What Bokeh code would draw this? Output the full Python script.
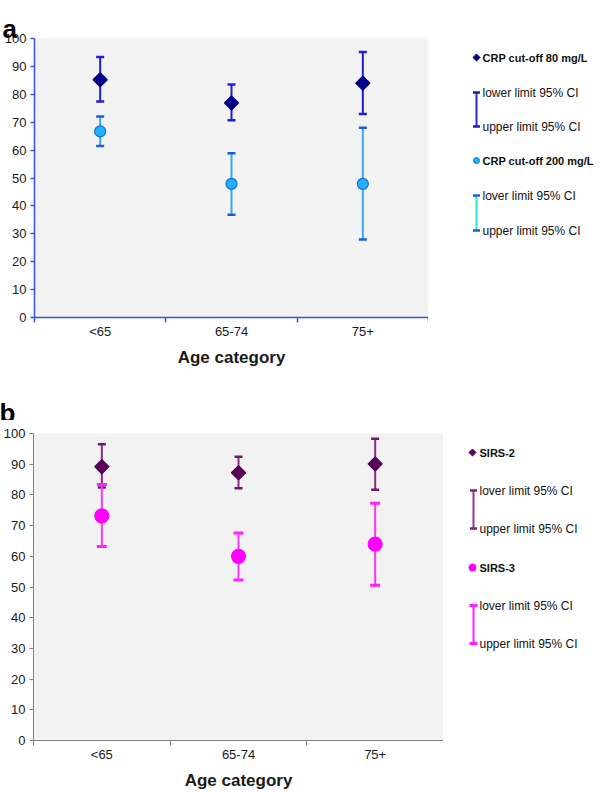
import numpy as np
from bokeh.plotting import figure
from bokeh.models import ColumnDataSource, Range1d, FixedTicker, Whisker, TeeHead
from bokeh.layouts import column, row
from bokeh.embed import file_html
from bokeh.resources import INLINE
from bokeh.core.properties import value

# ---------------- data ----------------
categories = ["<65", "65-74", "75+"]
y_ticks = [0, 10, 20, 30, 40, 50, 60, 70, 80, 90, 100]

crp80_est = [85.2, 76.9, 84.0]
crp80_low = [77.4, 70.7, 72.9]
crp80_up = [93.4, 83.5, 95.2]

crp200_est = [66.7, 47.9, 47.9]
crp200_low = [61.5, 36.8, 28.0]
crp200_up = [72.0, 58.9, 68.0]

sirs2_est = [89.2, 87.2, 90.1]
sirs2_low = [82.4, 82.2, 81.7]
sirs2_up = [96.5, 92.4, 98.3]

sirs3_est = [73.2, 60.0, 64.0]
sirs3_low = [63.2, 52.3, 50.6]
sirs3_up = [83.4, 67.6, 77.3]

x_label = "Age category"

FONT = "Liberation Sans"

# ---------------- styles ----------------
crp80_style = dict(marker="square", angle=np.pi / 4, size=10, fill="#00008b", line="#00007a",
                   bar="#1f1fd6", cap="#1f1fd6", cap_size=8, cap_w=2.5, lw=2)
crp200_style = dict(marker="circle", angle=0.0, size=11, fill="#22b0ff", line="#1570d8",
                    bar="#38a8f0", cap="#1a5fd0", cap_size=8, cap_w=2.5, lw=2)
sirs2_style = dict(marker="square", angle=np.pi / 4, size=10, fill="#5c005c", line="#4a004a",
                   bar="#8a2a8a", cap="#6a1a6a", cap_size=8, cap_w=2.5, lw=2)
sirs3_style = dict(marker="circle", angle=0.0, size=14, fill="#ff00ff", line="#ff00ff",
                   bar="#ff33ff", cap="#ff22ff", cap_size=10, cap_w=3, lw=2)


def make_panel(letter, series, axis_color, axis_w, width, height, mb_left, mb_top, mb_bottom,
               t_off, t_stand):
    p = figure(width=width, height=height, x_range=Range1d(0, 3), y_range=Range1d(0, 100),
               toolbar_location=None, output_backend="svg",
               min_border_left=mb_left, min_border_right=0, min_border_top=mb_top,
               min_border_bottom=mb_bottom)
    p.frame_align = False
    p.background_fill_color = "#f2f2f2"
    p.border_fill_color = "white"
    p.outline_line_color = None
    p.grid.visible = False

    p.title.text = letter
    p.title.text_font = FONT
    p.title.text_font_size = "26px"
    p.title.text_font_style = "bold"
    p.title.text_color = "black"
    p.title.align = "left"
    p.title.vertical_align = "top"
    p.title.offset = t_off
    p.title.standoff = t_stand
    if letter == "":
        p.title.visible = False

    xs = [i + 0.5 for i in range(len(categories))]
    xa = p.xaxis[0]
    xa.ticker = FixedTicker(ticks=xs, minor_ticks=list(range(len(categories) + 1)))
    xa.major_label_overrides = {x: c for x, c in zip(xs, categories)}
    xa.major_tick_line_color = None
    xa.major_tick_out = 5
    xa.major_tick_in = 0
    xa.minor_tick_out = 5
    xa.minor_tick_in = 0
    xa.minor_tick_line_color = axis_color
    xa.minor_tick_line_width = axis_w
    xa.axis_line_color = axis_color
    xa.axis_line_width = axis_w
    xa.major_label_text_font = FONT
    xa.major_label_text_font_size = "13px"
    xa.major_label_text_color = "#1a1a1a"
    xa.major_label_standoff = 1
    xa.axis_label = x_label
    xa.axis_label_text_font = FONT
    xa.axis_label_text_font_size = "17px"
    xa.axis_label_text_font_style = "bold"
    xa.axis_label_text_color = "#1a1a1a"
    xa.axis_label_standoff = 6

    ya = p.yaxis[0]
    ya.ticker = FixedTicker(ticks=y_ticks)
    ya.major_tick_out = 4
    ya.major_tick_in = 0
    ya.minor_tick_line_color = None
    ya.major_tick_line_color = axis_color
    ya.major_tick_line_width = axis_w
    ya.axis_line_color = axis_color
    ya.axis_line_width = axis_w
    ya.major_label_text_font = FONT
    ya.major_label_text_font_size = "13px"
    ya.major_label_text_color = "#1a1a1a"
    ya.major_label_standoff = 4

    for est, low, up, st in series:
        src = ColumnDataSource(dict(x=xs, est=est, low=low, up=up))
        w = Whisker(base="x", upper="up", lower="low", source=src, dimension="height",
                    line_color=st["bar"], line_width=st["lw"],
                    upper_head=TeeHead(size=st["cap_size"], line_color=st["cap"], line_width=st["cap_w"]),
                    lower_head=TeeHead(size=st["cap_size"], line_color=st["cap"], line_width=st["cap_w"]))
        p.add_layout(w)
    for est, low, up, st in series:
        src = ColumnDataSource(dict(x=xs, est=est))
        p.scatter("x", "est", source=src, marker=st["marker"], angle=st["angle"], size=st["size"],
                  fill_color=st["fill"], line_color=st["line"], line_width=1.2)
    return p


def blank_fig(x0, x1, y_top, y_bottom):
    f = figure(width=int(x1 - x0), height=int(y_bottom - y_top),
               x_range=Range1d(x0, x1), y_range=Range1d(y_bottom, y_top),
               toolbar_location=None, output_backend="svg", min_border=0,
               x_axis_location=None, y_axis_location=None)
    f.frame_align = False
    f.outline_line_color = None
    f.background_fill_color = "white"
    f.border_fill_color = "white"
    for g in f.center:
        if hasattr(g, "grid_line_color"):
            g.visible = False
    return f


def make_legend(x0, x1, y_top, y_bottom, entries):
    lg = blank_fig(x0, x1, y_top, y_bottom)
    for e in entries:
        if e["kind"] == "marker":
            st = e["style"]
            lg.scatter([e["mx"]], [e["y"]], marker=st["marker"], angle=st["angle"], size=e["msize"],
                       fill_color=st["fill"], line_color=st["line"], line_width=1)
            lg.text([e["tx"]], [e["y"]], text=[e["label"]], text_font=value(FONT),
                    text_font_size="11px", text_font_style="bold", text_color="#111111",
                    text_baseline="middle", text_align="left")
        else:
            lg.segment([e["mx"]], [e["y0"]], [e["mx"]], [e["y1"]], line_color=e["bar"], line_width=2)
            for yy in (e["y0"], e["y1"]):
                lg.segment([e["mx"] - e["cw"] / 2], [yy], [e["mx"] + e["cw"] / 2], [yy],
                           line_color=e["cap"], line_width=e["clw"])
            lg.text([e["tx"], e["tx"]], [e["y0"], e["y1"]], text=[e["l0"], e["l1"]],
                    text_font=value(FONT), text_font_size="12px", text_color="#111111",
                    text_baseline="middle", text_align="left")
    return lg


# ---------------- panel a ----------------
pa = make_panel("a", [(crp80_est, crp80_low, crp80_up, crp80_style),
                      (crp200_est, crp200_low, crp200_up, crp200_style)],
                "#3a4ee0", 1.5, 428, 390, 34, 38, 73, -32, -14)
la = make_legend(428, 600, 0, 390, [
    dict(kind="marker", style=crp80_style, mx=476, tx=482, y=57, msize=5, label="CRP cut-off 80 mg/L"),
    dict(kind="bar", mx=476, tx=482, y0=92, y1=126, bar="#2a2ad8", cap="#1f1fb0", cw=7, clw=2.5,
         l0="lower limit 95% CI", l1="upper limit 95% CI"),
    dict(kind="marker", style=crp200_style, mx=476, tx=482, y=160, msize=6, label="CRP cut-off 200 mg/L"),
    dict(kind="bar", mx=476, tx=482, y0=195, y1=230, bar="#33e0e0", cap="#1a5fd0", cw=7, clw=2.5,
         l0="lover limit 95% CI", l1="upper limit 95% CI"),
])

# ---------------- panel b ----------------
letter_b = blank_fig(0, 443, 390, 420)
letter_b.text([-1], [412], text=["b"], text_font=value(FONT), text_font_size="26px",
              text_font_style="bold", text_color="black", text_baseline="alphabetic",
              text_align="left")
pb = make_panel("", [(sirs2_est, sirs2_low, sirs2_up, sirs2_style),
                     (sirs3_est, sirs3_low, sirs3_up, sirs3_style)],
                "#808080", 1, 443, 372, 32, 13, 50, 0, 0)
lb = make_legend(443, 600, 390, 792, [
    dict(kind="marker", style=sirs2_style, mx=472, tx=479, y=452, msize=5, label="SIRS-2"),
    dict(kind="bar", mx=473, tx=479, y0=490, y1=528, bar="#993399", cap="#772277", cw=7, clw=2.5,
         l0="lover limit 95% CI", l1="upper limit 95% CI"),
    dict(kind="marker", style=sirs3_style, mx=472, tx=479, y=567, msize=7, label="SIRS-3"),
    dict(kind="bar", mx=473, tx=479, y0=605, y1=643, bar="#ff22ff", cap="#ff22ff", cw=8, clw=3,
         l0="lover limit 95% CI", l1="upper limit 95% CI"),
])

layout = column(row(pa, la), row(column(letter_b, pb), lb))
open("out.html", "w").write(file_html(layout, INLINE))
